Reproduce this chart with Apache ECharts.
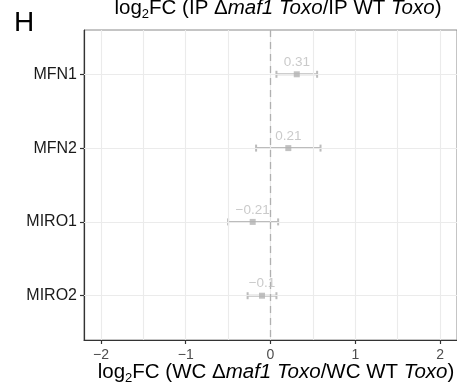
<!DOCTYPE html>
<html>
<head>
<meta charset="utf-8">
<script src="https://cdn.jsdelivr.net/npm/echarts@6/dist/echarts.min.js"></script>
<style>
  html, body { margin: 0; padding: 0; background: #fff; }
  #chart { width: 457px; height: 390px; }
</style>
</head>
<body>
<div id="chart"></div>
<script>
var genes = ['MFN1', 'MFN2', 'MIRO1', 'MIRO2'];
var fc = [0.31, 0.21, -0.21, -0.1];
var lower = [0.07, -0.17, -0.50, -0.27];
var upper = [0.55, 0.59, 0.09, 0.07];
var xTicks = [-2, -1, 0, 1, 2];
var xGrid = [-2, -1.5, -1, -0.5, 0, 0.5, 1, 1.5, 2];

var myChart = echarts.init(document.getElementById('chart'));

var minus = function (v) { return String(v).replace('-', '\u2212'); };
var pos = genes.map(function (g, i) { return i + 1; });

var font = 'Liberation Sans, Arial, sans-serif';
var grey = '#bcbcbc';

var titleRich = {
    a: { fontSize: 20.5, fontFamily: font, color: '#000' },
    i: { fontSize: 20.5, fontFamily: font, fontStyle: 'italic', color: '#000' },
    s: { fontSize: 13, fontFamily: font, color: '#000', padding: [12, 0, 0, 0] }
};

var gridLines = xGrid.map(function (v) { return { xAxis: v }; })
    .concat(pos.map(function (p) { return { yAxis: p }; }));

var option = {
    animation: false,
    grid: {
        left: 84, top: 30, width: 378.4, height: 310,
        show: true, borderColor: '#8a8a8a', borderWidth: 1
    },
    xAxis: {
        type: 'value', min: -2.2, max: 2.2,
        axisLine: { show: true, onZero: false, lineStyle: { color: '#333', width: 1.2 } },
        axisTick: { show: true, length: 4, customValues: xTicks, lineStyle: { color: '#333', width: 1.2 } },
        axisLabel: {
            customValues: xTicks, color: '#4d4d4d', fontSize: 14, fontFamily: font, margin: 8,
            formatter: function (v) { return minus(v); }
        },
        splitLine: { show: false }
    },
    yAxis: {
        type: 'value', min: 0.4, max: 4.6, inverse: true,
        axisLine: { show: true, onZero: false, lineStyle: { color: '#333', width: 1.2 } },
        axisTick: { show: true, length: 4, customValues: pos, lineStyle: { color: '#333', width: 1.2 } },
        axisLabel: {
            customValues: pos, color: '#1a1a1a', fontSize: 16, fontFamily: font, margin: 7,
            formatter: function (v) { return genes[Math.round(v) - 1]; }
        },
        splitLine: { show: false }
    },
    graphic: [
        { type: 'text', left: 14, top: 9,
          style: { text: 'H', fontSize: 28, fontFamily: font, fill: '#000' } },
        { type: 'text', x: 278, y: 0,
          style: { text: '{a|log}{s|2}{a|FC (IP \u0394}{i|maf1 Toxo}{a|/IP WT }{i|Toxo}{a|)}',
                   rich: titleRich, align: 'center', verticalAlign: 'bottom', y: 21 } },
        { type: 'text', x: 276, y: 0,
          style: { text: '{a|log}{s|2}{a|FC (WC \u0394}{i|maf1 Toxo}{a|/WC WT }{i|Toxo}{a|)}',
                   rich: titleRich, align: 'center', verticalAlign: 'bottom', y: 385 } }
    ],
    series: [
        {
            type: 'line', data: [], silent: true,
            markLine: {
                silent: true, symbol: 'none', label: { show: false },
                lineStyle: { color: '#ebebeb', width: 1.1, type: 'solid' },
                data: gridLines
            }
        },
        {
            type: 'line', data: [], silent: true, z: 3,
            markLine: {
                silent: true, symbol: 'none', label: { show: false },
                lineStyle: { color: '#b0b0b0', width: 1.3, type: [7, 5] },
                data: [{ xAxis: 0 }]
            }
        },
        {
            type: 'custom', z: 4,
            renderItem: function (params, api) {
                var y = api.value(2);
                var a = api.coord([api.value(0), y]);
                var b = api.coord([api.value(1), y]);
                var h = 3.5;
                var st = { stroke: grey, lineWidth: 2 };
                return {
                    type: 'group',
                    children: [
                        { type: 'line', shape: { x1: a[0], y1: a[1], x2: b[0], y2: b[1] }, style: st },
                        { type: 'line', shape: { x1: a[0], y1: a[1] - h, x2: a[0], y2: a[1] + h }, style: st },
                        { type: 'line', shape: { x1: b[0], y1: b[1] - h, x2: b[0], y2: b[1] + h }, style: st }
                    ]
                };
            },
            data: genes.map(function (g, i) { return [lower[i], upper[i], pos[i]]; })
        },
        {
            type: 'scatter', z: 5, symbol: 'rect', symbolSize: 6,
            itemStyle: { color: '#b3b3b3' },
            label: {
                show: true, position: 'top', distance: 2,
                color: '#bdbdbd', fontSize: 13.5, fontFamily: font,
                formatter: function (p) { return minus(p.value[0]); }
            },
            data: genes.map(function (g, i) { return [fc[i], pos[i]]; })
        }
    ]
};

myChart.setOption(option);
</script>
</body>
</html>
